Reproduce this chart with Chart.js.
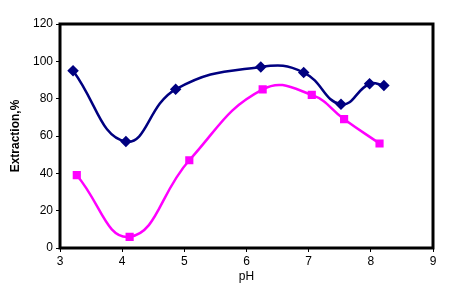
<!DOCTYPE html>
<html><head><meta charset="utf-8">
<script src="https://cdn.jsdelivr.net/npm/chart.js@4/dist/chart.umd.min.js"></script>
<style>html,body{margin:0;padding:0;background:#fff}#c{display:block}</style>
</head><body>
<canvas id="c" width="455" height="291"></canvas>
<script>
const seriesA_pH = [3.21, 4.06, 4.86, 6.23, 6.92, 7.52, 7.98, 8.21];
const seriesA_ext = [95, 57, 85, 97, 94, 77, 88, 87];
const seriesB_pH = [3.27, 4.12, 5.08, 6.26, 7.05, 7.57, 8.14];
const seriesB_ext = [39, 6, 47, 85, 82, 69, 56];
const xTicks = [3, 4, 5, 6, 7, 8, 9];
const yTicks = [0, 20, 40, 60, 80, 100, 120];

const toPts = (xs, ys) => xs.map((x, i) => ({x: x, y: ys[i]}));
const font = {family: '"Liberation Sans", Arial, sans-serif', size: 12};

const frame = {
  id: 'frame',
  afterDatasetsDraw(chart) {
    const a = chart.chartArea, ctx = chart.ctx;
    ctx.save();
    ctx.strokeStyle = '#000';
    ctx.lineWidth = 3;
    ctx.strokeRect(a.left, a.top, a.right - a.left, a.bottom - a.top);
    ctx.restore();
  }
};

new Chart(document.getElementById('c'), {
  type: 'scatter',
  data: {
    datasets: [
      {data: toPts(seriesA_pH, seriesA_ext), showLine: true, borderColor: '#000080', backgroundColor: '#000080',
       borderWidth: 2.5, pointStyle: 'rectRot', pointRadius: 4, tension: 0.45, cubicInterpolationMode: 'default'},
      {data: toPts(seriesB_pH, seriesB_ext), showLine: true, borderColor: '#FF00FF', backgroundColor: '#FF00FF',
       borderWidth: 2.5, pointStyle: 'rect', pointRadius: 4, tension: 0.45, cubicInterpolationMode: 'default'}
    ]
  },
  options: {
    responsive: false, animation: false,
    layout: {padding: {top: 24, right: 22, left: 8, bottom: 7}},
    plugins: {legend: {display: false}, tooltip: {enabled: false}},
    scales: {
      x: {
        type: 'linear', min: 3, max: 9,
        afterBuildTicks: s => { s.ticks = xTicks.map(v => ({value: v})); },
        afterFit: s => { s.height = 36; },
        ticks: {color: '#000', font: font, padding: 2},
        grid: {drawOnChartArea: false, color: '#000', tickLength: 4, lineWidth: 1},
        border: {display: false},
        title: {display: true, text: 'pH', color: '#000', font: font, padding: {top: 0, bottom: 0}}
      },
      y: {
        min: 0, max: 120,
        afterBuildTicks: s => { s.ticks = yTicks.map(v => ({value: v})); },
        afterFit: s => { s.width = 52; },
        ticks: {color: '#000', font: font, padding: 3},
        grid: {drawOnChartArea: false, color: '#000', tickLength: 4, lineWidth: 1},
        border: {display: false},
        title: {display: true, text: 'Extraction,%', color: '#000', font: Object.assign({}, font, {weight: 'bold'}), padding: {top: 0, bottom: 2}}
      }
    }
  },
  plugins: [frame]
});
</script>
</body></html>
